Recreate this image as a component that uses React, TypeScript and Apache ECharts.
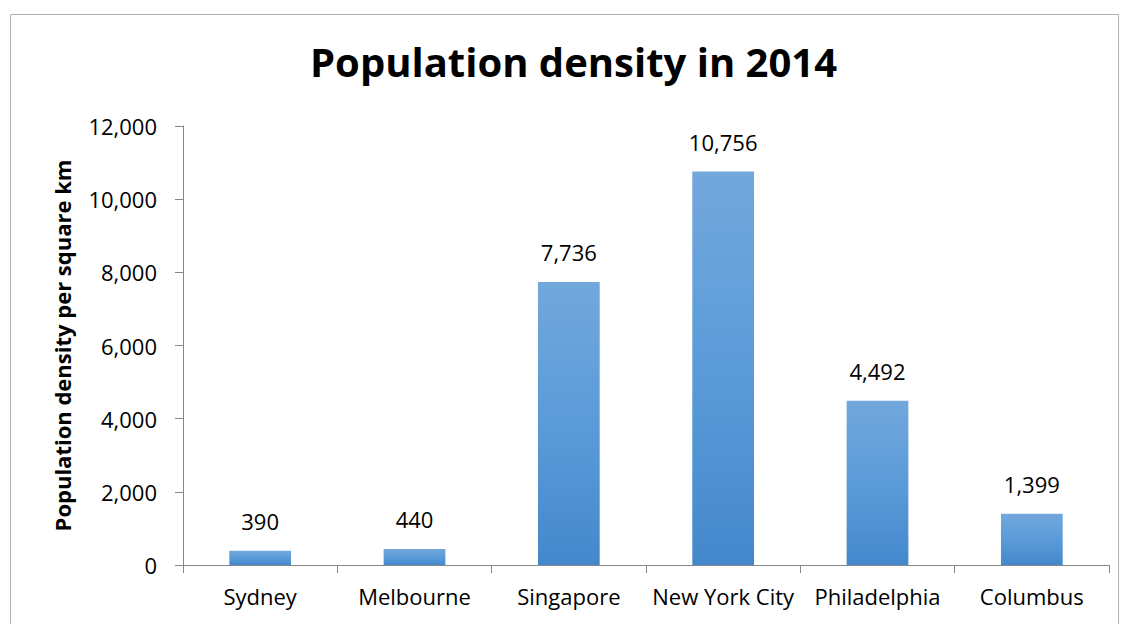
import React, { useEffect, useRef } from "react";
import * as echarts from "echarts";

const categories = ["Sydney", "Melbourne", "Singapore", "New York City", "Philadelphia", "Columbus"];
const densities = [390, 440, 7736, 10756, 4492, 1399];
const yTicks = { min: 0, max: 12000, interval: 2000 };
const titleText = "Population density in 2014";
const yAxisName = "Population density per square km";

const FONT = "'Open Sans', sans-serif";
const fmt = (v: number) => v.toLocaleString("en-US");

export default function App() {
  const ref = useRef<HTMLDivElement>(null);
  useEffect(() => {
    const chart = echarts.init(ref.current!, null, { renderer: "svg" });
    chart.setOption({
      animation: false,
      backgroundColor: "#ffffff",
      textStyle: { fontFamily: FONT },
      title: {
        text: titleText,
        left: 305,
        top: 36,
        textStyle: { fontFamily: FONT, fontSize: 40, fontWeight: "bold", color: "#000" },
      },
      graphic: [
        {
          type: "rect",
          shape: { x: 10.5, y: 14.5, width: 1108, height: 620 },
          style: { fill: "none", stroke: "#b0b0b0", lineWidth: 1 },
          silent: true,
        },
      ],
      grid: { left: 183, right: 14, top: 126, bottom: 59, containLabel: false },
      xAxis: {
        type: "category",
        data: categories,
        axisLine: { lineStyle: { color: "#868686", width: 1 } },
        axisTick: { show: true, length: 8, lineStyle: { color: "#868686" } },
        axisLabel: { color: "#000", fontSize: 22, fontFamily: FONT, margin: 20, interval: 0 },
      },
      yAxis: {
        type: "value",
        min: yTicks.min,
        max: yTicks.max,
        interval: yTicks.interval,
        name: yAxisName,
        nameLocation: "middle",
        nameGap: 110,
        nameTextStyle: { fontFamily: FONT, fontSize: 22, fontWeight: "bold", color: "#000" },
        axisLine: { show: true, lineStyle: { color: "#868686", width: 1 } },
        axisTick: { show: true, length: 8, lineStyle: { color: "#868686" } },
        splitLine: { show: false },
        axisLabel: { color: "#000", fontSize: 22, fontFamily: FONT, margin: 26, formatter: (v: number) => fmt(v) },
      },
      series: [
        {
          type: "bar",
          data: densities,
          barWidth: "40%",
          itemStyle: {
            color: new echarts.graphic.LinearGradient(0, 0, 0, 1, [
              { offset: 0, color: "#72a8dc" },
              { offset: 0.5, color: "#5b9bd9" },
              { offset: 1, color: "#4488cc" },
            ]),
          },
          label: {
            show: true,
            position: "top",
            distance: 19,
            color: "#000",
            fontSize: 22,
            fontFamily: FONT,
            formatter: (p: any) => fmt(p.value),
          },
        },
      ],
    });
    return () => chart.dispose();
  }, []);
  return <div ref={ref} style={{ position: "absolute", left: 0, top: 0, width: 1123, height: 624 }} />;
}
